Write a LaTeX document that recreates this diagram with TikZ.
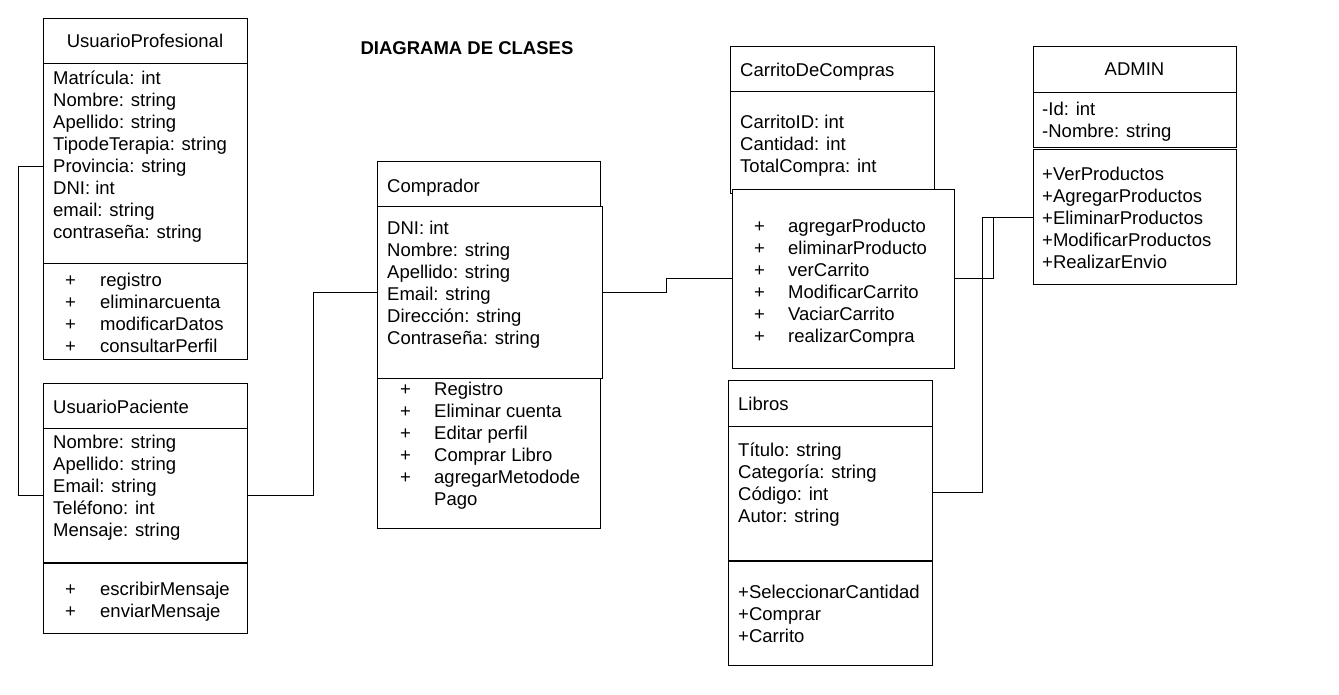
\documentclass[tikz,border=0pt]{standalone}
\usepackage{fontspec}
\setmainfont{Liberation Sans}
\begin{document}
\begin{tikzpicture}[x=1pt,y=-1pt,
  comp/.style={draw, line width=1pt, fill=white, anchor=north west, inner sep=0pt, outer sep=0pt},
  txt/.style={inner sep=0pt, anchor=base west, font=\fontsize{18.5}{22}\selectfont},
  ctitle/.style={inner sep=0pt, font=\fontsize{18.5}{22}\selectfont},
  conn/.style={draw, line width=1pt},
  thickline/.style={draw, line width=2pt}]
\path[fill=white] (0,0) rectangle (1339,694);
\useasboundingbox (0,0) rectangle (1339,694);

% title
\node[inner sep=0pt, anchor=base, font=\fontsize{18.5}{22}\selectfont\bfseries] (title) at (467,54) {DIAGRAMA DE CLASES};

% UsuarioProfesional
\node[comp, minimum width=204pt, minimum height=45pt] (upH) at (43,18) {};
\node[comp, minimum width=204pt, minimum height=200pt] (upA) at (43,63) {};
\node[comp, minimum width=204pt, minimum height=96pt] (upM) at (43,263) {};
\node[ctitle] (upT) at (upH.center) {UsuarioProfesional};
\foreach \t [count=\i] in {Matrícula: int, Nombre: string, Apellido: string, TipodeTerapia: string, Provincia: string, DNI: int, email: string, contraseña: string}
  \node[txt] (upa\i) at (53,62+22*\i) {\t};
\foreach \t [count=\i] in {registro, eliminarcuenta, modificarDatos, consultarPerfil}
  {\node[txt] (upp\i) at (65,264+22*\i) {+}; \node[txt] (upm\i) at (100,264+22*\i) {\t};}

% UsuarioPaciente
\node[comp, minimum width=204pt, minimum height=45pt] (pH) at (43,383) {};
\node[comp, minimum width=204pt, minimum height=135pt] (pA) at (43,428) {};
\node[comp, minimum width=204pt, minimum height=70pt] (pM) at (43,563) {};
\draw[thickline] (pM.north west) -- (pM.north east);
\node[txt] (pT) at (53,413) {UsuarioPaciente};
\foreach \t [count=\i] in {Nombre: string, Apellido: string, Email: string, Teléfono: int, Mensaje: string}
  \node[txt] (pa\i) at (53,426+22*\i) {\t};
\foreach \t [count=\i] in {escribirMensaje, enviarMensaje}
  {\node[txt] (pp\i) at (65,573+22*\i) {+}; \node[txt] (pm\i) at (100,573+22*\i) {\t};}

% Comprador
\node[comp, minimum width=223pt, minimum height=45pt] (cH) at (377,161) {};
\node[comp, minimum width=225pt, minimum height=172pt] (cA) at (377,206) {};
\node[comp, minimum width=223pt, minimum height=150pt] (cM) at (377,378) {};
\node[txt] (cT) at (387,192) {Comprador};
\foreach \t [count=\i] in {DNI: int, Nombre: string, Apellido: string, Email: string, Dirección: string, Contraseña: string}
  \node[txt] (ca\i) at (387,212+22*\i) {\t};
\foreach \t [count=\i] in {Registro, Eliminar cuenta, Editar perfil, Comprar Libro, agregarMetodode}
  {\node[txt] (cp\i) at (400,373+22*\i) {+}; \node[txt] (cm\i) at (434,373+22*\i) {\t};}
\node[txt] (cm6) at (434,505) {Pago};

% CarritoDeCompras
\node[comp, minimum width=204pt, minimum height=45pt] (kH) at (730,46) {};
\node[comp, minimum width=204pt, minimum height=102pt] (kA) at (730,91) {};
\node[comp, minimum width=222pt, minimum height=179pt] (kM) at (732,189) {};
\node[txt] (kT) at (740,76) {CarritoDeCompras};
\foreach \t [count=\i] in {CarritoID: int, Cantidad: int, TotalCompra: int}
  \node[txt] (ka\i) at (740,106+22*\i) {\t};
\foreach \t [count=\i] in {agregarProducto, eliminarProducto, verCarrito, ModificarCarrito, VaciarCarrito, realizarCompra}
  {\node[txt] (kp\i) at (754,210+22*\i) {+}; \node[txt] (km\i) at (788,210+22*\i) {\t};}

% ADMIN
\node[comp, minimum width=203pt, minimum height=46pt] (aH) at (1033,46) {};
\node[comp, minimum width=203pt, minimum height=55pt] (aA) at (1033,92) {};
\node[comp, minimum width=203pt, minimum height=135pt] (aM) at (1033,149) {};
\node[ctitle] (aT) at (aH.center) {ADMIN};
\foreach \t [count=\i] in {-Id: int, -Nombre: string}
  \node[txt] (aa\i) at (1042,93+22*\i) {\t};
\foreach \t [count=\i] in {+VerProductos, +AgregarProductos, +EliminarProductos, +ModificarProductos, +RealizarEnvio}
  \node[txt] (am\i) at (1042,158+22*\i) {\t};

% Libros
\node[comp, minimum width=204pt, minimum height=46pt] (lH) at (728,380) {};
\node[comp, minimum width=204pt, minimum height=135pt] (lA) at (728,426) {};
\node[comp, minimum width=204pt, minimum height=104pt] (lM) at (728,561) {};
\draw[thickline] (lM.north west) -- (lM.north east);
\node[txt] (lT) at (738,410) {Libros};
\foreach \t [count=\i] in {Título: string, Categoría: string, Código: int, Autor: string}
  \node[txt] (la\i) at (738,434+22*\i) {\t};
\foreach \t [count=\i] in {+SeleccionarCantidad, +Comprar, +Carrito}
  \node[txt] (lm\i) at (738,576+22*\i) {\t};

% connectors
\coordinate (j1) at (18,166);
\coordinate (j2) at (18,495);
\draw[conn] (upA.west |- j1) -- (j1) -- (j2) -- (pA.west |- j2);
\coordinate (j3) at (313,495);
\coordinate (j4) at (313,292);
\draw[conn] (pA.east |- j3) -- (j3) -- (j4) -- (cA.west |- j4);
\coordinate (j5) at (666,292);
\coordinate (j6) at (666,278);
\draw[conn] (cA.east |- j5) -- (j5) -- (j6) -- (kM.west |- j6);
\coordinate (j7) at (993,278);
\coordinate (j8) at (993,217);
\draw[conn] (kM.east |- j7) -- (j7) -- (j8) -- (aM.west |- j8);
\coordinate (j9) at (982,492);
\coordinate (j10) at (982,217);
\draw[conn] (lA.east |- j9) -- (j9) -- (j10) -- (j8);
\end{tikzpicture}
\end{document}
